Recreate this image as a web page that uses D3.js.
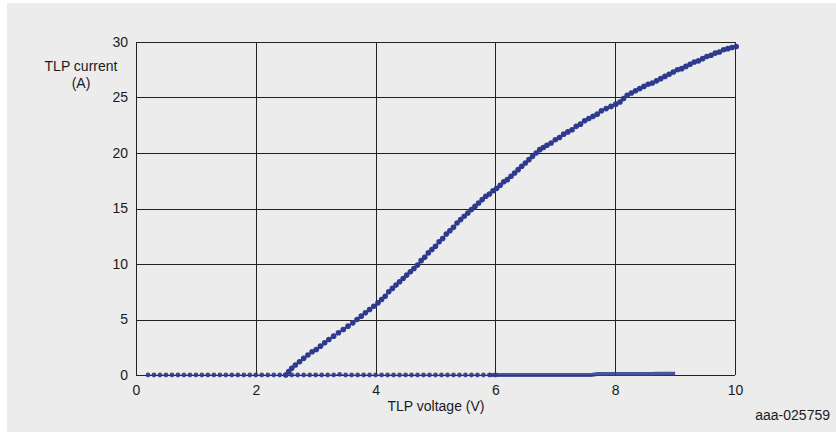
<!DOCTYPE html>
<html><head><meta charset="utf-8">
<script src="https://cdn.jsdelivr.net/npm/d3@7"></script>
<style>
html,body{margin:0;padding:0;background:#fff;}
svg{display:block;font-family:"Liberation Sans",Arial,sans-serif;}
</style></head>
<body>
<svg id="c" width="836" height="432"></svg>
<script>
// ---- data ----
const xTicks = [0, 2, 4, 6, 8, 10];
const yTicks = [0, 5, 10, 15, 20, 25, 30];
const onVoltage = [2.50,2.55,2.60,2.66,2.73,2.80,2.87,2.94,3.01,3.08,3.15,3.22,3.30,3.38,3.46,3.54,3.62,3.69,3.76,3.83,3.90,3.97,4.04,4.10,4.16,4.22,4.28,4.34,4.40,4.46,4.52,4.58,4.64,4.70,4.76,4.82,4.88,4.94,5.00,5.06,5.12,5.18,5.24,5.30,5.36,5.42,5.48,5.54,5.60,5.66,5.72,5.78,5.84,5.90,5.96,6.02,6.08,6.14,6.20,6.26,6.32,6.38,6.44,6.50,6.56,6.62,6.68,6.74,6.80,6.86,6.93,7.00,7.07,7.14,7.21,7.28,7.35,7.42,7.49,7.56,7.63,7.70,7.77,7.85,7.93,8.01,8.08,8.14,8.20,8.27,8.34,8.41,8.48,8.55,8.62,8.69,8.76,8.83,8.90,8.97,9.04,9.11,9.18,9.25,9.32,9.39,9.46,9.53,9.60,9.67,9.74,9.81,9.88,9.95,10.02];
const onCurrent = [0.0,0.3,0.6,0.9,1.2,1.5,1.8,2.1,2.3,2.6,2.9,3.2,3.5,3.8,4.1,4.4,4.7,5.0,5.3,5.6,5.9,6.2,6.5,6.8,7.1,7.5,7.8,8.1,8.4,8.7,9.0,9.3,9.6,9.9,10.3,10.6,11.0,11.3,11.6,12.0,12.3,12.7,13.0,13.3,13.7,14.0,14.3,14.6,14.9,15.2,15.5,15.8,16.1,16.3,16.6,16.8,17.1,17.4,17.6,17.9,18.2,18.5,18.8,19.1,19.4,19.7,20.0,20.3,20.5,20.7,20.9,21.2,21.4,21.7,21.9,22.1,22.4,22.6,22.9,23.1,23.3,23.5,23.8,24.0,24.2,24.4,24.6,24.9,25.2,25.4,25.6,25.8,26.0,26.2,26.3,26.5,26.7,26.9,27.1,27.3,27.5,27.6,27.8,28.0,28.2,28.3,28.5,28.7,28.8,29.0,29.1,29.3,29.4,29.5,29.6];
const offVoltage = [0.2,0.3,0.4,0.5,0.6,0.7,0.8,0.9,1.0,1.1,1.2,1.3,1.4,1.5,1.6,1.7,1.8,1.9,2.0,2.1,2.2,2.3,2.4,2.5,2.6,2.7,2.8,2.9,3.0,3.1,3.2,3.3,3.4,3.5,3.6,3.7,3.8,3.9,4.0,4.1,4.2,4.3,4.4,4.5,4.6,4.7,4.8,4.9,5.0,5.1,5.2,5.3,5.4,5.5,5.6,5.7,5.8,5.9,6.0,6.1,6.2,6.3,6.4,6.5,6.6,6.7,6.8,6.9,7.0,7.1,7.2,7.3,7.4,7.5,7.6,7.7,7.8,7.9,8.0,8.1,8.2,8.3,8.4,8.5,8.6,8.7,8.8,8.9,9.0];
const offCurrent = [0,0,0,0,0,0,0,0,0,0,0,0,0,0,0,0,0,0,0,0,0,0,0,0,0,0,0,0,0,0,0,0,0.05,0,0,0,0,0,0,0,0,0,0,0,0,0,0,0,0,0,0,0,0,0,0,0,0,0,0,0,0,0,0,0,0,0,0,0,0,0,0,0,0,0,0,0.08,0.08,0.08,0.08,0.08,0.08,0.08,0.08,0.08,0.08,0.12,0.12,0.12,0.12];
const xLabel = "TLP voltage (V)";
const yLabelLines = ["TLP current", "(A)"];
const figId = "aaa-025759";

// ---- layout ----
const svg = d3.select("#c");
const W = 836, H = 432;
const mLeft = 136, mRight = 735, mTop = 42, mBottom = 375;
const dotColor = "#2e3a8e";
const gridColor = "#222";
const textColor = "#1a1a1a";
const fs = 14;

svg.append("rect").attr("x", 7).attr("y", 3).attr("width", W - 7).attr("height", H - 3).attr("fill", "#ececec");

const x = d3.scaleLinear().domain([0, 10]).range([mLeft, mRight]);
const y = d3.scaleLinear().domain([0, 30]).range([mBottom, mTop]);

// grid
const g = svg.append("g");
g.selectAll("line.v").data(xTicks).join("line")
  .attr("x1", d => Math.round(x(d)) + 0.5).attr("x2", d => Math.round(x(d)) + 0.5)
  .attr("y1", y(30)).attr("y2", y(0))
  .attr("stroke", gridColor).attr("stroke-width", 1);
g.selectAll("line.h").data(yTicks).join("line")
  .attr("y1", d => Math.round(y(d)) + 0.5).attr("y2", d => Math.round(y(d)) + 0.5)
  .attr("x1", x(0)).attr("x2", x(10))
  .attr("stroke", gridColor).attr("stroke-width", 1);

// axes (labels only, via d3 axis)
const xAxis = svg.append("g").attr("transform", `translate(0,${mBottom})`)
  .call(d3.axisBottom(x).tickValues(xTicks).tickSize(0).tickPadding(10).tickFormat(d3.format("d")));
const yAxis = svg.append("g").attr("transform", `translate(${mLeft},0)`)
  .call(d3.axisLeft(y).tickValues(yTicks).tickSize(0).tickPadding(8).tickFormat(d3.format("d")));
[xAxis, yAxis].forEach(a => {
  a.select(".domain").remove();
  a.selectAll("text").attr("font-size", fs).attr("fill", textColor)
    .attr("font-family", "'Liberation Sans',Arial,sans-serif");
});

// axis titles
svg.append("text").attr("x", 436).attr("y", 411).attr("text-anchor", "middle")
  .attr("font-size", fs).attr("fill", textColor).text(xLabel);
svg.append("text").attr("x", 81).attr("y", 71).attr("text-anchor", "middle")
  .attr("font-size", fs).attr("fill", textColor)
  .selectAll("tspan").data(yLabelLines).join("tspan")
  .attr("x", 81).attr("dy", (d, i) => i === 0 ? 0 : 17).text(d => d);
svg.append("text").attr("x", 830).attr("y", 420).attr("text-anchor", "end")
  .attr("font-size", fs).attr("fill", textColor).text(figId);

// off-state data
const offData = offVoltage.map((v, i) => ({v, c: offCurrent[i]}));
const onData = onVoltage.map((v, i) => ({v, c: onCurrent[i]}));
const line = d3.line().x(d => x(d.v)).y(d => y(d.c));

svg.append("path").datum(offData.filter(d => d.v >= 5.9))
  .attr("d", line).attr("fill", "none").attr("stroke", dotColor)
  .attr("stroke-width", 4).attr("opacity", 0.85);
svg.append("path").datum(offData.filter(d => d.v <= 6.0))
  .attr("d", line).attr("fill", "none").attr("stroke", dotColor)
  .attr("stroke-width", 1.2).attr("opacity", 0.6);
svg.append("g").selectAll("circle").data(offData.filter(d => d.v <= 6.0)).join("circle")
  .attr("cx", d => x(d.v)).attr("cy", d => y(d.c)).attr("r", 2.4)
  .attr("fill", dotColor).attr("opacity", 0.9);

// on-state curve
svg.append("path").datum(onData).attr("d", line)
  .attr("fill", "none").attr("stroke", dotColor).attr("stroke-width", 1.6);
svg.append("g").selectAll("circle").data(onData).join("circle")
  .attr("cx", d => x(d.v)).attr("cy", d => y(d.c)).attr("r", 2.8)
  .attr("fill", dotColor);
</script>
</body></html>
